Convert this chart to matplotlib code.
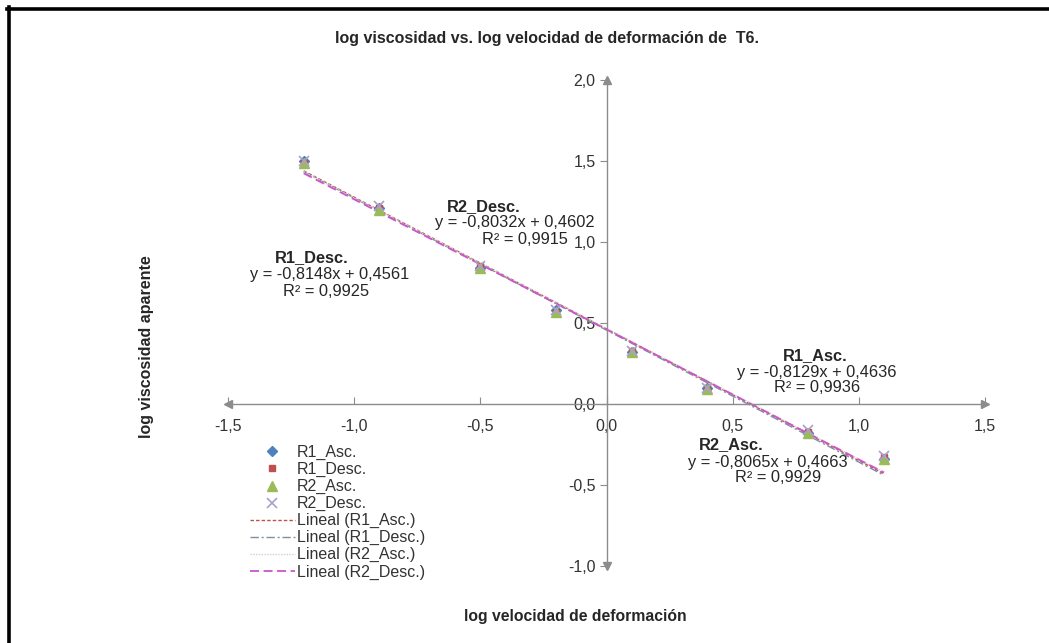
import matplotlib
matplotlib.use("Agg")
import matplotlib.pyplot as plt
from matplotlib.ticker import FuncFormatter, MultipleLocator
from matplotlib.lines import Line2D
import numpy as np

plt.rcParams['font.family'] = ['Liberation Sans', 'DejaVu Sans']

# log shear rate
x_vals = [-1.2, -0.9, -0.5, -0.2, 0.1, 0.4, 0.8, 1.1]
# log apparent viscosity for each run
r1_asc = [1.50, 1.21, 0.84, 0.58, 0.32, 0.10, -0.18, -0.34]
r1_desc = [1.49, 1.21, 0.85, 0.57, 0.33, 0.09, -0.17, -0.33]
r2_asc = [1.49, 1.20, 0.84, 0.57, 0.32, 0.09, -0.18, -0.34]
r2_desc = [1.50, 1.22, 0.85, 0.58, 0.33, 0.10, -0.16, -0.32]

series_names = ["R1_Asc.", "R1_Desc.", "R2_Asc.", "R2_Desc."]
slopes = [-0.8129, -0.8148, -0.8065, -0.8032]
intercepts = [0.4636, 0.4561, 0.4663, 0.4602]
r2_values = [0.9936, 0.9925, 0.9929, 0.9915]

W, H = 1049, 643
fig = plt.figure(figsize=(W / 100, H / 100), dpi=100)
fig.patch.set_facecolor("white")


def fx(px):
    return px / W


def fy(py):
    return 1 - py / H


ax = fig.add_axes([fx(228), fy(566), (985 - 228) / W, (566 - 80) / H])
ax.set_xlim(-1.5, 1.5)
ax.set_ylim(-1.0, 2.0)

axis_gray = "#8c8c8c"
for s in ["top", "right"]:
    ax.spines[s].set_visible(False)
ax.spines["left"].set_position(("data", 0))
ax.spines["bottom"].set_position(("data", 0))
for s in ["left", "bottom"]:
    ax.spines[s].set_color(axis_gray)
    ax.spines[s].set_linewidth(1.0)

# arrow heads on both ends of each axis
ax.plot([-1.5], [0], marker="<", color=axis_gray, ms=6, clip_on=False)
ax.plot([1.5], [0], marker=">", color=axis_gray, ms=6, clip_on=False)
ax.plot([0], [2.0], marker="^", color=axis_gray, ms=6, clip_on=False)
ax.plot([0], [-1.0], marker="v", color=axis_gray, ms=6, clip_on=False)

fmt = FuncFormatter(lambda v, p: f"{v:.1f}".replace(".", ","))
ax.xaxis.set_major_locator(MultipleLocator(0.5))
ax.yaxis.set_major_locator(MultipleLocator(0.5))
ax.xaxis.set_major_formatter(fmt)
ax.yaxis.set_major_formatter(fmt)
ax.tick_params(axis="x", direction="in", length=5, color=axis_gray,
               labelsize=11.5, labelcolor="#333333", pad=11)
ax.tick_params(axis="y", direction="out", length=5, color=axis_gray,
               labelsize=11.5, labelcolor="#333333", pad=3)

# scatter series
marker_styles = [
    dict(marker="D", color="#4F81BD", ms=5.5),
    dict(marker="s", color="#C0504D", ms=5),
    dict(marker="^", color="#9BBB59", ms=7),
    dict(marker="x", color="#A9A0CC", ms=7, mew=1.2),
]
for yv, name, st in zip([r1_asc, r1_desc, r2_asc, r2_desc], series_names, marker_styles):
    ax.plot(x_vals, yv, linestyle="none", label=name, zorder=3, **st)

# linear trendlines from fitted coefficients
line_styles = [
    dict(color="#C0504D", ls=(0, (2.5, 1.5)), lw=1.0),
    dict(color="#7F8F9F", ls=(0, (6, 2, 1.5, 2)), lw=1.0),
    dict(color="#D0D0D0", ls=(0, (1, 1)), lw=1.0),
    dict(color="#CC55CC", ls=(0, (5, 2.5)), lw=1.3),
]
xt = np.array([min(x_vals), max(x_vals)])
for m, b, name, st in zip(slopes, intercepts, series_names, line_styles):
    ax.plot(xt, m * xt + b, label=f"Lineal ({name[:-1]}.)", zorder=2, **st)

handles, labels = ax.get_legend_handles_labels()
leg = fig.legend(handles, labels, loc="upper left",
                 bbox_to_anchor=(fx(250), fy(445)), frameon=False,
                 fontsize=11.5, handlelength=2.8, handletextpad=0.15,
                 labelspacing=0.12, borderaxespad=0, borderpad=0)
for t in leg.get_texts():
    t.set_color("#333333")


def fmt_num(v):
    return f"{v:.4f}".replace(".", ",")


# trendline annotations: (name index, center-x of each line, y of each line)
ann = {
    3: [(484, 207), (515, 223), (525, 239)],
    1: [(312, 258), (330, 275), (326, 292)],
    0: [(815, 356), (817, 372), (817, 388)],
    2: [(731, 445), (768, 462), (778, 478)],
}
for i, pos in ann.items():
    name = series_names[i]
    lines = [name, f"y = {fmt_num(slopes[i])}x + {fmt_num(intercepts[i])}",
             f"R² = {fmt_num(r2_values[i])}"]
    for k, (txt, (px, py)) in enumerate(zip(lines, pos)):
        fig.text(fx(px), fy(py), txt, ha="center", va="center",
                 fontsize=11.8, color="#262626",
                 fontweight="bold" if k == 0 else "normal")

fig.text(fx(547), fy(38), "log viscosidad vs. log velocidad de deformación de  T6.",
         ha="center", va="center", fontsize=11.5, fontweight="bold", color="#262626")
fig.text(fx(575), fy(617), "log velocidad de deformación",
         ha="center", va="center", fontsize=11.3, fontweight="bold", color="#262626")
fig.text(fx(147), fy(347), "log viscosidad aparente", rotation=90,
         ha="center", va="center", fontsize=11.5, fontweight="bold", color="#262626")

# frame lines along top and left edge
fig.add_artist(Line2D([fx(7), 1], [fy(9), fy(9)], color="black", lw=2.6))
fig.add_artist(Line2D([fx(9), fx(9)], [fy(7), 0], color="black", lw=2.6))

fig.savefig("out.png", dpi=100, facecolor="white")
